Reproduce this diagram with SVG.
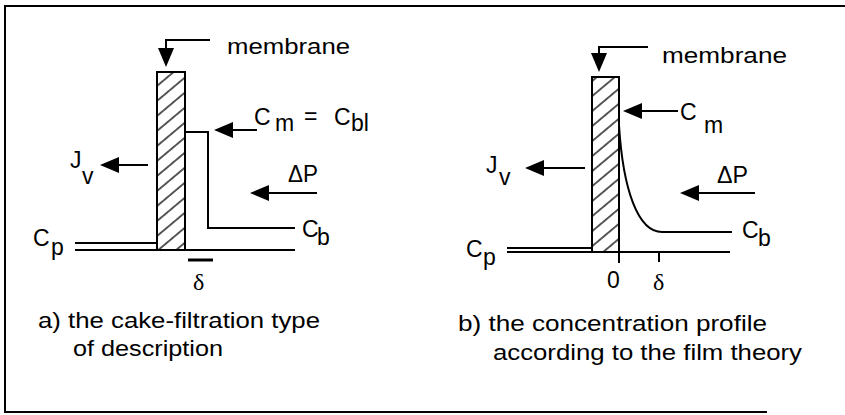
<svg xmlns="http://www.w3.org/2000/svg" width="845" height="415" viewBox="0 0 845 415">
<style>
.t{font-family:"Liberation Sans",Arial,sans-serif;font-size:22px;fill:#000}
.l{font-family:"Liberation Sans",Arial,sans-serif;font-size:23px;fill:#000}
.d{font-family:"Liberation Serif","Times New Roman",serif;font-size:24px;fill:#000}
.ln{stroke:#000;stroke-width:2;fill:none}
.ar{stroke:#000;stroke-width:2;fill:none;marker-end:url(#ah)}
.mb{fill:url(#hatch);stroke:#000;stroke-width:2}
</style>
<defs>
<marker id="ah" markerUnits="userSpaceOnUse" markerWidth="20" markerHeight="17" refX="0" refY="8" orient="auto" overflow="visible">
<path d="M0,0 L19,8 L0,16 Z" fill="#000"/>
</marker>
<pattern id="hatch" patternUnits="userSpaceOnUse" width="10" height="11.5" patternTransform="rotate(-40)">
<rect width="10" height="11.5" fill="#fff"/>
<line x1="0" y1="5.75" x2="10" y2="5.75" stroke="#000" stroke-width="1.3"/>
</pattern>
</defs>
<rect width="845" height="415" fill="#fff"/>
<g id="frame">
<path class="ln" d="M845,6 H5 V412 H767" stroke-width="2.5"/>
</g>
<g id="panel-a">
<g id="membrane-a">
<rect class="mb" x="157" y="72" width="28" height="178"/>
<text class="t" x="227" y="54" textLength="123" lengthAdjust="spacingAndGlyphs">membrane</text>
</g>
<g id="profile-a">
<path class="ln" d="M185,132 H208 V228 H295"/>
<path class="ln" d="M75,243 H157 M75,250 H295"/>
<line x1="188" y1="260" x2="213" y2="260" stroke="#000" stroke-width="3"/>
</g>
<g id="labels-a">
<text class="l" x="254" y="125">C</text>
<text class="l" x="275" y="131">m</text>
<text class="l" x="304" y="124">=</text>
<text class="l" x="334" y="125">C</text>
<text class="l" x="351" y="131">bl</text>
<text class="l" x="70" y="168">J</text>
<text class="l" x="82" y="184">v</text>
<text class="l" x="288" y="182" textLength="30" lengthAdjust="spacingAndGlyphs">ΔP</text>
<text class="l" x="302" y="237">C</text>
<text class="l" x="317" y="245">b</text>
<text class="l" x="33" y="246">C</text>
<text class="l" x="51" y="255">p</text>
<text class="d" x="193" y="290">δ</text>
</g>
<g id="caption-a">
<text class="t" x="38" y="328" textLength="282" lengthAdjust="spacingAndGlyphs">a) the cake-filtration type</text>
<text class="t" x="73" y="356" textLength="150" lengthAdjust="spacingAndGlyphs">of description</text>
</g>
</g>
<g id="panel-b">
<g id="membrane-b">
<rect class="mb" x="592" y="77" width="27" height="175"/>
<text class="t" x="662" y="63" textLength="125" lengthAdjust="spacingAndGlyphs">membrane</text>
</g>
<g id="profile-b">
<path class="ln" d="M619,125 C623,190 638,232 662,232 H732"/>
<path class="ln" d="M507,248 H592 M507,252 H730 M619,252 V263 M659,252 V262"/>
</g>
<g id="labels-b">
<text class="l" x="680" y="120">C</text>
<text class="l" x="704" y="133">m</text>
<text class="l" x="486" y="173">J</text>
<text class="l" x="499" y="185">v</text>
<text class="l" x="717" y="183" textLength="31" lengthAdjust="spacingAndGlyphs">ΔP</text>
<text class="l" x="742" y="238">C</text>
<text class="l" x="758" y="246">b</text>
<text class="l" x="466" y="257">C</text>
<text class="l" x="483" y="265">p</text>
<text class="l" x="607" y="288">0</text>
<text class="d" x="653" y="290">δ</text>
</g>
<g id="caption-b">
<text class="t" x="458" y="331" textLength="309" lengthAdjust="spacingAndGlyphs">b) the concentration profile</text>
<text class="t" x="493" y="360" textLength="309" lengthAdjust="spacingAndGlyphs">according to the film theory</text>
</g>
</g>
<g id="connectors">
<path class="ar" d="M210,40 H166 V48"/>
<line class="ar" x1="257" y1="130" x2="233" y2="130"/>
<line class="ar" x1="148" y1="165" x2="119" y2="165"/>
<line class="ar" x1="317" y1="193" x2="269" y2="193"/>
<path class="ar" d="M648,47 H599 V53"/>
<line class="ar" x1="678" y1="111" x2="642" y2="111"/>
<line class="ar" x1="585" y1="168" x2="544" y2="168"/>
<line class="ar" x1="755" y1="193" x2="699" y2="193"/>
</g>
</svg>
